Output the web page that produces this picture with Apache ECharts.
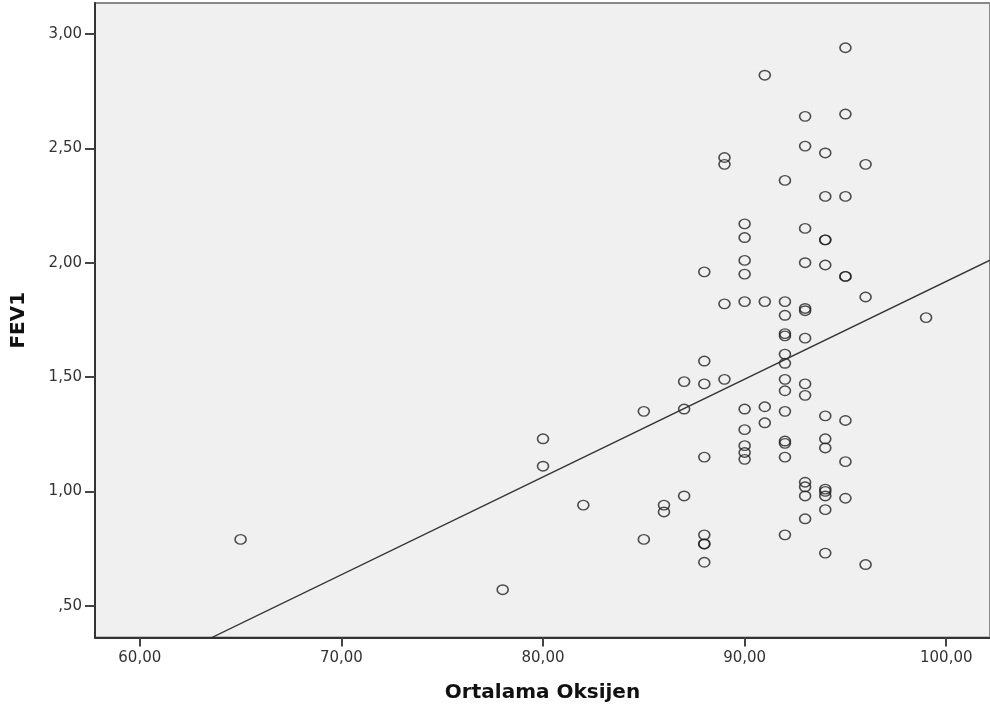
<!DOCTYPE html>
<html>
<head>
<meta charset="utf-8">
<script src="https://cdn.jsdelivr.net/npm/echarts@6/dist/echarts.min.js"></script>
<style>
  html, body { margin: 0; padding: 0; background: #fff; }
</style>
</head>
<body>
<div id="chart" style="width: 990px; height: 711px;"></div>
<script>
  // Ortalama Oksijen (x) and FEV1 (y), one entry per case
  var oxygen = [
    65, 78, 80, 80, 82, 85, 85, 86, 86, 87, 87, 87,
    88, 88, 88, 88, 88, 88, 88, 88,
    89, 89, 89, 89,
    90, 90, 90, 90, 90, 90, 90, 90, 90, 90,
    91, 91, 91, 91,
    92, 92, 92, 92, 92, 92, 92, 92, 92, 92, 92, 92, 92, 92,
    93, 93, 93, 93, 93, 93, 93, 93, 93, 93, 93, 93, 93,
    94, 94, 94, 94, 94, 94, 94, 94, 94, 94, 94, 94, 94,
    95, 95, 95, 95, 95, 95, 95, 95,
    96, 96, 96, 99
  ];
  var fev1 = [
    0.79, 0.57, 1.23, 1.11, 0.94, 1.35, 0.79, 0.94, 0.91, 1.48, 1.36, 0.98,
    1.96, 1.57, 1.47, 1.15, 0.81, 0.77, 0.77, 0.69,
    2.46, 2.43, 1.82, 1.49,
    2.17, 2.11, 2.01, 1.95, 1.83, 1.36, 1.27, 1.20, 1.17, 1.14,
    2.82, 1.83, 1.37, 1.30,
    2.36, 1.83, 1.77, 1.69, 1.68, 1.60, 1.56, 1.49, 1.44, 1.35, 1.22, 1.21, 1.15, 0.81,
    2.64, 2.51, 2.15, 2.00, 1.80, 1.79, 1.67, 1.47, 1.42, 1.04, 1.02, 0.98, 0.88,
    2.48, 2.29, 2.10, 2.10, 1.99, 1.33, 1.23, 1.19, 1.01, 1.00, 0.98, 0.92, 0.73,
    2.94, 2.65, 2.29, 1.94, 1.94, 1.31, 1.13, 0.97,
    2.43, 1.85, 0.68, 1.76
  ];
  // fit line end points
  var fitX = [57.78, 102.17];
  var fitY = [0.113, 2.011];

  var xTicks = [60, 70, 80, 90, 100];
  var yTicks = [0.5, 1.0, 1.5, 2.0, 2.5, 3.0];

  function fmt(v) {
    var s = v.toFixed(2).replace('.', ',');
    if (s.indexOf('0,') === 0) s = s.slice(1);   // SPSS drops the leading zero
    return s;
  }

  var points = oxygen.map(function (x, i) { return [x, fev1[i]]; });
  var fit = fitX.map(function (x, i) { return [x, fitY[i]]; });

  var myChart = echarts.init(document.getElementById('chart'));
  myChart.setOption({
    animation: false,
    grid: {
      left: 95,
      top: 3,
      right: -5,
      bottom: 73.5,
      show: true,
      backgroundColor: '#f0f0f0',
      borderColor: '#888',
      borderWidth: 2
    },
    xAxis: {
      type: 'value',
      min: 57.78,
      max: 102.17,
      name: 'Ortalama Oksijen',
      nameLocation: 'middle',
      nameGap: 45,
      nameTextStyle: {
        fontFamily: 'DejaVu Sans',
        fontWeight: 'bold',
        fontSize: 20,
        color: '#111'
      },
      axisLine: { lineStyle: { color: '#333', width: 2 } },
      axisTick: { customValues: xTicks, length: 9, lineStyle: { color: '#444', width: 2 } },
      axisLabel: {
        customValues: xTicks,
        formatter: fmt,
        margin: 13,
        fontFamily: 'DejaVu Sans',
        fontSize: 15,
        color: '#333'
      },
      splitLine: { show: false }
    },
    yAxis: {
      type: 'value',
      min: 0.361,
      max: 3.1357,
      name: 'FEV1',
      nameLocation: 'middle',
      nameRotate: 90,
      nameGap: 66,
      nameTextStyle: {
        fontFamily: 'DejaVu Sans',
        fontWeight: 'bold',
        fontSize: 20,
        color: '#111'
      },
      axisLine: { show: true, lineStyle: { color: '#333', width: 2 } },
      axisTick: { show: true, customValues: yTicks, length: 10, lineStyle: { color: '#444', width: 2 } },
      axisLabel: {
        customValues: yTicks,
        formatter: fmt,
        margin: 13,
        fontFamily: 'DejaVu Sans',
        fontSize: 15,
        color: '#333'
      },
      splitLine: { show: false }
    },
    series: [
      {
        name: 'FEV1',
        type: 'scatter',
        data: points,
        symbol: 'circle',
        symbolSize: [11, 9.5],
        itemStyle: {
          color: 'transparent',
          borderColor: '#222',
          borderWidth: 1.5
        }
      },
      {
        name: 'fit',
        type: 'line',
        data: fit,
        symbol: 'none',
        clip: true,
        lineStyle: { color: '#333', width: 1.3 }
      }
    ]
  });
</script>
</body>
</html>
